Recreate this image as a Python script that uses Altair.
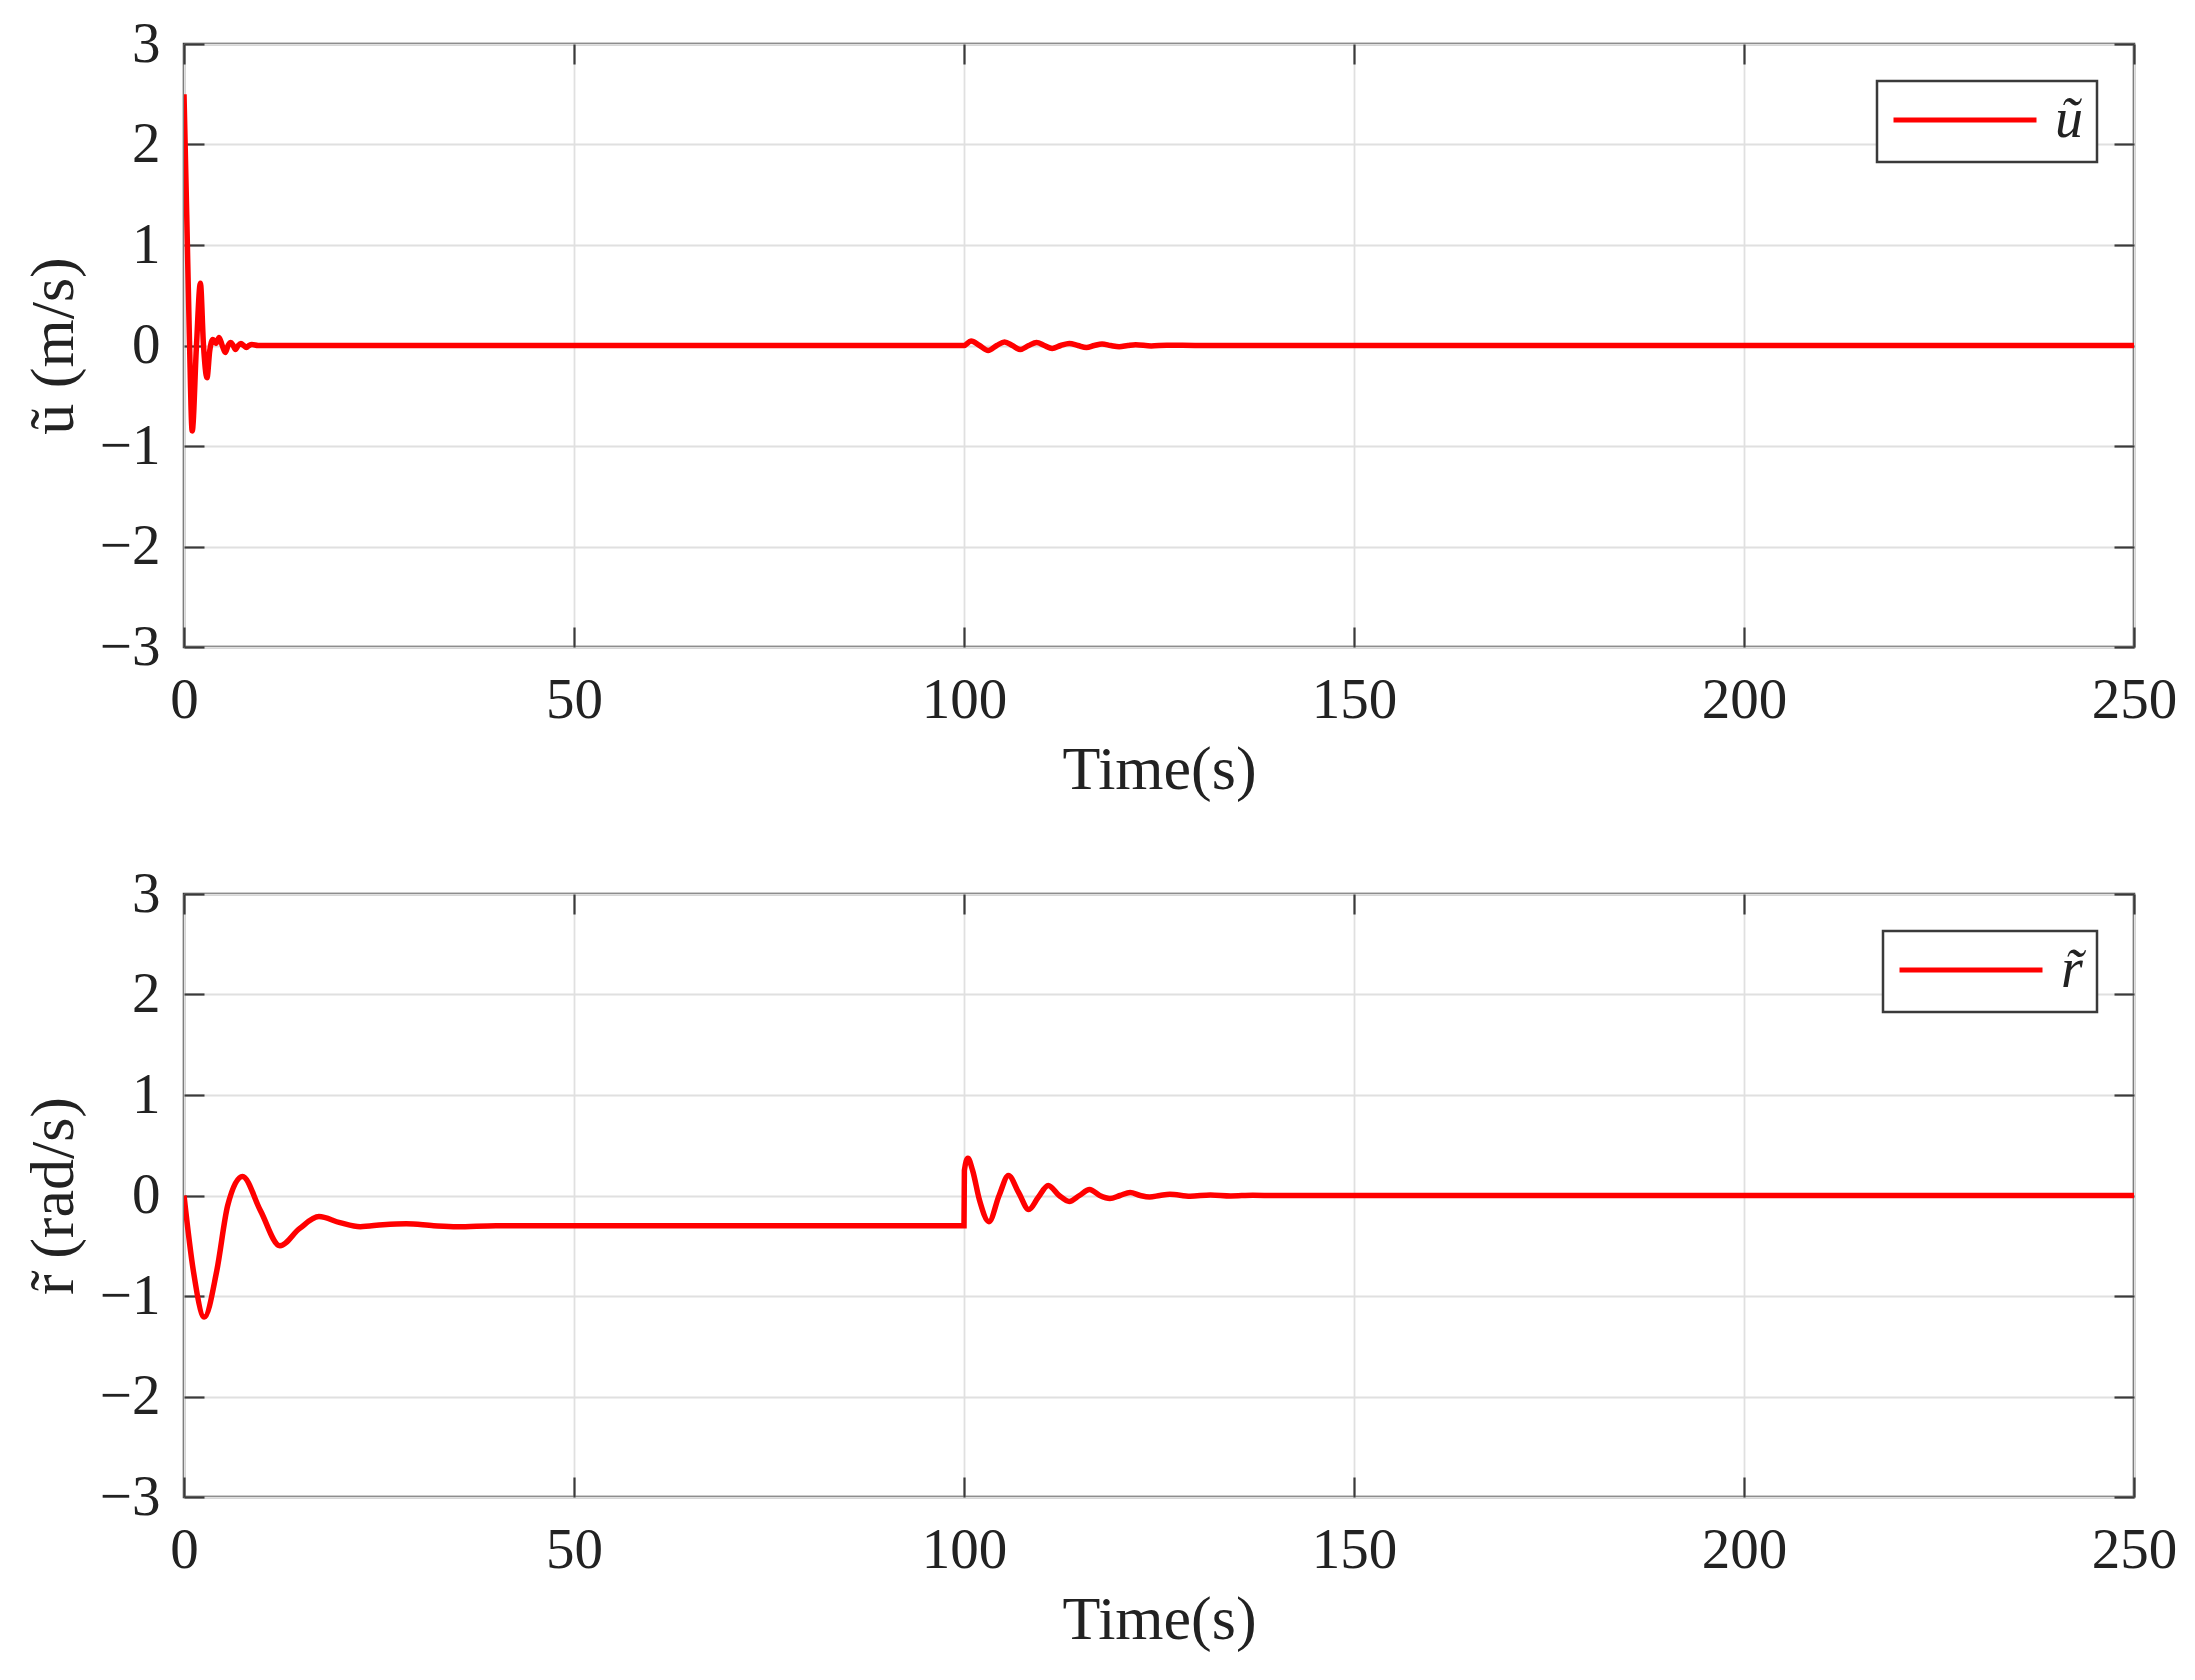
import altair as alt
import pandas as pd

# ---- data ----
t_u = [0, 0.35, 0.7, 1.05, 1.6, 2.1, 2.5, 2.95, 3.3, 3.7, 4.1, 4.5, 4.9, 5.3, 5.65, 6.0, 6.3, 6.6, 6.95, 7.3,
       7.65, 8.0, 8.35, 8.7, 9.5, 100.0, 100.9, 102.0, 103.1, 104.2, 105.2, 106.2, 107.2, 108.3, 109.3, 110.3,
       111.3, 112.4, 113.5, 114.6, 115.7, 116.7, 117.7, 118.8, 119.9, 121.0, 122.0, 124.0, 126.0, 130.0, 250.0]
u_vals = [2.5, 1.3, 0.05, -0.85, 0.0, 0.62, 0.0, -0.32, -0.05, 0.06, 0.02, 0.08, 0.0, -0.07, 0.0, 0.03, 0.0, -0.04, 0.0, 0.02,
          0.0, -0.02, 0.0, 0.01, 0.0, 0.0, 0.045, 0.0, -0.05, 0.0, 0.035, 0.0, -0.04, 0.0, 0.03, 0.0,
          -0.03, 0.0, 0.02, 0.0, -0.02, 0.0, 0.015, 0.0, -0.012, 0.0, 0.008, -0.005, 0.003, 0.0, 0.0]

t_r = [0, 1.2, 2.6, 4.2, 5.6, 7.5, 9.8, 12.3, 14.8, 17.3, 20.0, 22.6, 25.5, 28.5, 32.0, 35.0, 40.0, 100.0,
       100.05, 100.5, 101.1, 102.0, 103.2, 104.5, 105.7, 107.0, 108.3, 109.5, 110.8, 112.2, 113.5, 114.8,
       116.1, 117.4, 118.7, 120.0, 121.3, 122.6, 123.8, 125.1, 126.4, 129.0, 131.6, 134.2, 137.0, 140.0, 250.0]
r_vals = [0.0, -0.75, -1.21, -0.75, -0.1, 0.19, -0.15, -0.50, -0.33, -0.21, -0.27, -0.31, -0.29, -0.28, -0.30, -0.31, -0.30, -0.30,
          0.25, 0.37, 0.25, -0.05, -0.26, 0.0, 0.20, 0.03, -0.14, -0.02, 0.10, 0.0, -0.06, 0.0,
          0.06, 0.0, -0.03, 0.0, 0.03, 0.0, -0.015, 0.0, 0.012, -0.008, 0.006, -0.004, 0.002, 0.0, 0.0]

x_ticks = [0, 50, 100, 150, 200, 250]
y_ticks = [-3, -2, -1, 0, 1, 2, 3]

FONT = "Liberation Serif"
TICK = 20
FRAME = "#3a3a3a"


def panel(t, v, name, ytitle):
    df = pd.DataFrame({"t": t, "v": v, "series": name})
    xs = alt.Scale(domain=[0, 250], nice=False, zero=False)
    ys = alt.Scale(domain=[-3, 3], nice=False)
    line = alt.Chart(df).mark_line(strokeWidth=5.5, interpolate="monotone", clip=True).encode(
        x=alt.X("t:Q", scale=xs, axis=alt.Axis(
            values=x_ticks, title="Time(s)", offset=-TICK, tickSize=TICK, domain=False, grid=True,
            labelPadding=25, titlePadding=11)),
        y=alt.Y("v:Q", scale=ys, axis=alt.Axis(
            values=y_ticks, title=ytitle, offset=-TICK, tickSize=TICK, domain=False, grid=True,
            labelPadding=24, titlePadding=14)),
        color=alt.Color("series:N", scale=alt.Scale(domain=[name], range=["#ff0000"]),
                        legend=alt.Legend(title=None, orient="top-right", offset=37)),
    )
    ghost = alt.Chart(df).mark_point(opacity=0).encode(
        x=alt.X("t:Q", scale=xs, axis=alt.Axis(
            orient="top", values=x_ticks, labels=False, title=None, offset=-TICK, tickSize=TICK,
            domain=False, grid=False)),
        y=alt.Y("v:Q", scale=ys, axis=alt.Axis(
            orient="right", values=y_ticks, labels=False, title=None, offset=-TICK, tickSize=TICK,
            domain=False, grid=False)),
    )
    return alt.layer(line, ghost).resolve_scale(x="independent", y="independent").properties(
        width=1950, height=603)


top = panel(t_u, u_vals, "ũ", "ũ (m/s)")
bottom = panel(t_r, r_vals, "r̃", "r̃ (rad/s)")

chart = alt.vconcat(top, bottom, spacing=61).resolve_scale(color="independent").properties(
    padding={"left": 13, "top": 5, "right": 5, "bottom": 5}
).configure_view(
    stroke=FRAME, strokeWidth=2.5
).configure_axis(
    labelFont=FONT, titleFont=FONT, labelFontSize=57, titleFontSize=62,
    labelColor="#222", titleColor="#222", titleFontWeight="normal",
    tickColor=FRAME, tickWidth=2.2, gridColor="#e0e0e0", gridWidth=1.8,
    labelFlush=False
).configure_legend(
    strokeColor=FRAME, strokeWidth=2.5, fillColor="white", padding=14, cornerRadius=0,
    symbolType="stroke", symbolSize=20449, symbolStrokeWidth=5, clipHeight=50,
    labelFont=FONT, labelFontSize=56, labelFontStyle="italic", labelColor="#222", labelOffset=16
)

chart.save("out.html", embed_options={"renderer": "svg", "actions": False})
